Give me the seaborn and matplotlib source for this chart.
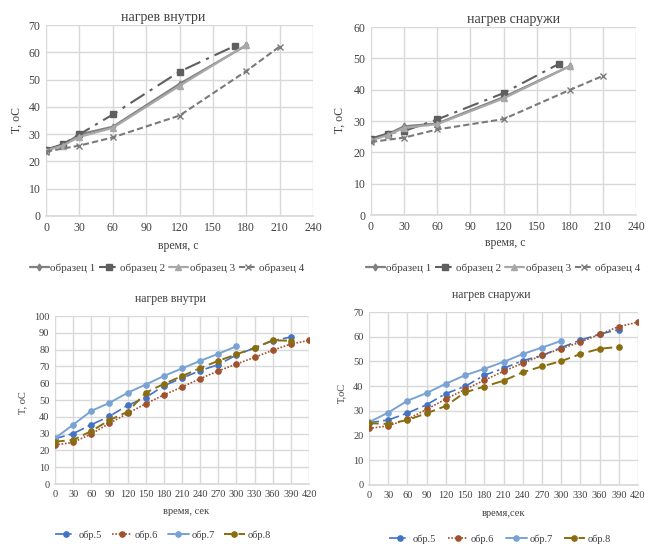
import numpy as np
import pandas as pd
import matplotlib
matplotlib.use("Agg")
import matplotlib.pyplot as plt
import seaborn as sns

# ---------------- data ----------------
# top-left: нагрев внутри
tl_x1 = [0, 15, 30, 60, 120, 180]
tl_y1 = [24.2, 26.0, 29.9, 32.7, 48.4, 62.5]
tl_x2 = [0, 15, 30, 60, 120, 170]
tl_y2 = [24.3, 26.3, 29.9, 37.2, 52.9, 62.4]
tl_x3 = [0, 15, 30, 60, 120, 180]
tl_y3 = [24.0, 25.8, 29.0, 32.3, 47.7, 62.7]
tl_x4 = [0, 30, 60, 120, 180, 210]
tl_y4 = [23.6, 25.8, 28.8, 36.8, 53.1, 62.1]

# top-right: нагрев снаружи
tr_x1 = [0, 15, 30, 60, 120, 180]
tr_y1 = [24.0, 25.8, 28.3, 29.2, 37.6, 47.5]
tr_x2 = [0, 15, 30, 60, 120, 170]
tr_y2 = [24.4, 26.0, 26.8, 30.5, 38.9, 48.2]
tr_x3 = [0, 15, 30, 60, 120, 180]
tr_y3 = [23.8, 25.5, 27.8, 29.0, 37.2, 47.5]
tr_x4 = [0, 30, 60, 120, 180, 210]
tr_y4 = [23.3, 24.7, 27.3, 30.6, 39.9, 44.4]

top_labels = ["образец 1", "образец 2", "образец 3", "образец 4"]

# bottom-left: нагрев внутри
bl_x5 = [0, 30, 60, 90, 120, 150, 180, 210, 240, 270, 300, 330, 360, 390]
bl_y5 = [27.0, 30.0, 35.3, 40.3, 46.8, 51.4, 58.5, 63.0, 67.5, 71.0, 76.8, 81.0, 85.3, 87.5]
bl_x6 = [0, 30, 60, 90, 120, 150, 180, 210, 240, 270, 300, 330, 360, 390, 420]
bl_y6 = [23.2, 24.8, 29.8, 36.1, 42.0, 47.8, 53.0, 57.7, 62.7, 67.3, 71.4, 75.4, 79.6, 83.3, 85.5]
bl_x7 = [0, 30, 60, 90, 120, 150, 180, 210, 240, 270, 300]
bl_y7 = [27.2, 35.3, 43.5, 48.3, 54.3, 59.2, 64.3, 68.8, 73.3, 77.5, 82.0]
bl_x8 = [0, 30, 60, 90, 120, 150, 180, 210, 240, 270, 300, 330, 360, 390]
bl_y8 = [25.2, 26.2, 31.5, 38.0, 43.0, 54.3, 59.6, 64.2, 69.0, 73.3, 77.2, 81.0, 85.5, 85.3]

# bottom-right: нагрев снаружи
br_x5 = [0, 30, 60, 90, 120, 150, 180, 210, 240, 270, 300, 330, 360, 390]
br_y5 = [25.2, 26.3, 29.1, 32.5, 37.0, 39.9, 44.4, 47.2, 50.3, 52.4, 55.6, 58.6, 61.0, 62.9]
br_x6 = [0, 30, 60, 90, 120, 150, 180, 210, 240, 270, 300, 330, 360, 390, 420]
br_y6 = [22.9, 23.9, 26.6, 30.6, 34.8, 38.7, 42.4, 46.0, 49.3, 52.4, 55.2, 57.8, 61.0, 64.1, 65.9]
br_x7 = [0, 30, 60, 90, 120, 150, 180, 210, 240, 270, 300]
br_y7 = [25.4, 29.3, 34.1, 37.2, 41.0, 44.4, 47.0, 49.8, 53.0, 55.6, 58.3]
br_x8 = [0, 30, 60, 90, 120, 150, 180, 210, 240, 270, 300, 330, 360, 390]
br_y8 = [25.0, 24.7, 26.3, 29.0, 32.0, 37.5, 39.8, 42.2, 45.6, 48.0, 50.1, 53.0, 55.1, 55.9]

bottom_labels = ["обр.5", "обр.6", "обр.7", "обр.8"]

# ---------------- style ----------------
sns.set_theme(style="white")
plt.rcParams["font.family"] = ["Liberation Serif", "DejaVu Serif"]

W, H = 648, 544
fig = plt.figure(figsize=(W / 100, H / 100), dpi=100)


def ax_at(x0, y0, x1, y1):
    return fig.add_axes([x0 / W, 1 - y1 / H, (x1 - x0) / W, (y1 - y0) / H])


GRID = "#d9d9d9"
TXT = "#404040"

top_styles = [
    dict(color="#808080", linestyle="-", marker="d", markersize=3.5, linewidth=1.6),
    dict(color="#5f5f5f", linestyle=(0, (8, 3, 1.5, 3)), marker="s", markersize=5, linewidth=1.5),
    dict(color="#a8a8a8", linestyle="-", marker="^", markersize=4.5, linewidth=1.6),
    dict(color="#7a7a7a", linestyle=(0, (3, 1.5)), marker="x", markersize=5, linewidth=1.5),
]
bottom_styles = [
    dict(color="#4472c4", linestyle=(0, (6, 2.5, 1.5, 2.5)), marker="o", markersize=3.8, linewidth=1.2),
    dict(color="#a0522d", linestyle=(0, (1, 1)), marker="o", markersize=3.8, linewidth=1.2),
    dict(color="#79a3d4", linestyle="-", marker="o", markersize=3.8, linewidth=1.4),
    dict(color="#8a6d10", linestyle=(0, (5, 2.5)), marker="o", markersize=3.8, linewidth=1.4),
]


def setup(ax, xmax, xstep, ymax, fs):
    ax.set_xlim(0, xmax)
    ax.set_ylim(0, ymax)
    ax.set_xticks(np.arange(0, xmax + 1, xstep))
    ax.set_yticks(np.arange(0, ymax + 1, 10))
    ax.grid(True, color=GRID, linewidth=1.0)
    ax.set_axisbelow(True)
    for s in ["top", "right", "left"]:
        ax.spines[s].set_visible(False)
    ax.spines["bottom"].set_color(GRID)
    ax.tick_params(axis="both", length=0, labelsize=fs, colors=TXT, pad=4)
    ax.set_xlabel("")
    ax.set_ylabel("")


def draw(ax, xs, ys, labels, styles):
    for x, y, lab, st in zip(xs, ys, labels, styles):
        df = pd.DataFrame({"x": x, "y": y})
        sns.lineplot(data=df, x="x", y="y", ax=ax, sort=False, label=lab,
                     markeredgewidth=1.0, markeredgecolor=st["color"], **st)
    h, l = ax.get_legend_handles_labels()
    if ax.get_legend() is not None:
        ax.get_legend().remove()
    return h, l


top_leg = dict(ncol=4, frameon=False, fontsize=8, handlelength=1.7, handletextpad=0.15,
               columnspacing=0.35, labelcolor=TXT, borderpad=0)
bot_leg = dict(ncol=4, frameon=False, fontsize=7.5, handlelength=2.0, handletextpad=0.25,
               labelcolor=TXT, borderpad=0)

# ---- top-left ----
ax1 = ax_at(46, 25, 313, 216)
h, l = draw(ax1, [tl_x1, tl_x2, tl_x3, tl_x4], [tl_y1, tl_y2, tl_y3, tl_y4], top_labels, top_styles)
setup(ax1, 240, 30, 70, 8.5)
fig.text(163 / W, 1 - 18 / H, "нагрев внутри", ha="center", va="center", fontsize=10, color=TXT)
fig.text(178 / W, 1 - 246 / H, "время, с", ha="center", va="center", fontsize=8.5, color=TXT)
fig.text(17 / W, 1 - 120 / H, "T, oC", ha="center", va="center", rotation=90, fontsize=8.5, color=TXT)
fig.legend(h, l, loc="center", bbox_to_anchor=(167 / W, 1 - 268 / H), **top_leg)

# ---- top-right ----
ax2 = ax_at(371, 27, 636, 215)
h, l = draw(ax2, [tr_x1, tr_x2, tr_x3, tr_x4], [tr_y1, tr_y2, tr_y3, tr_y4], top_labels, top_styles)
setup(ax2, 240, 30, 60, 8.5)
fig.text(514 / W, 1 - 19 / H, "нагрев снаружи", ha="center", va="center", fontsize=10, color=TXT)
fig.text(505 / W, 1 - 243 / H, "время, с", ha="center", va="center", fontsize=8.5, color=TXT)
fig.text(340 / W, 1 - 120 / H, "T, oC", ha="center", va="center", rotation=90, fontsize=8.5, color=TXT)
fig.legend(h, l, loc="center", bbox_to_anchor=(503 / W, 1 - 268 / H), **top_leg)

# ---- bottom-left ----
ax3 = ax_at(55, 316, 309, 484)
h, l = draw(ax3, [bl_x5, bl_x6, bl_x7, bl_x8], [bl_y5, bl_y6, bl_y7, bl_y8], bottom_labels, bottom_styles)
setup(ax3, 420, 30, 100, 7.5)
fig.text(170 / W, 1 - 299 / H, "нагрев внутри", ha="center", va="center", fontsize=8.5, color=TXT)
fig.text(186 / W, 1 - 512 / H, "время, сек", ha="center", va="center", fontsize=7.5, color=TXT)
fig.text(23 / W, 1 - 403 / H, "T, oC", ha="center", va="center", rotation=90, fontsize=7.5, color=TXT)
fig.legend(h, l, loc="center", bbox_to_anchor=(163 / W, 1 - 535 / H), columnspacing=0.9, **bot_leg)

# ---- bottom-right ----
ax4 = ax_at(369, 312, 638, 485)
h, l = draw(ax4, [br_x5, br_x6, br_x7, br_x8], [br_y5, br_y6, br_y7, br_y8], bottom_labels, bottom_styles)
setup(ax4, 420, 30, 70, 7.5)
fig.text(491 / W, 1 - 295 / H, "нагрев снаружи", ha="center", va="center", fontsize=8.5, color=TXT)
fig.text(504 / W, 1 - 513 / H, "время,сек", ha="center", va="center", fontsize=7.5, color=TXT)
fig.text(342 / W, 1 - 393 / H, "T,oC", ha="center", va="center", rotation=90, fontsize=7.5, color=TXT)
fig.legend(h, l, loc="center", bbox_to_anchor=(500 / W, 1 - 539 / H), columnspacing=1.1, **bot_leg)

fig.savefig("out.png", dpi=100, facecolor="white")
